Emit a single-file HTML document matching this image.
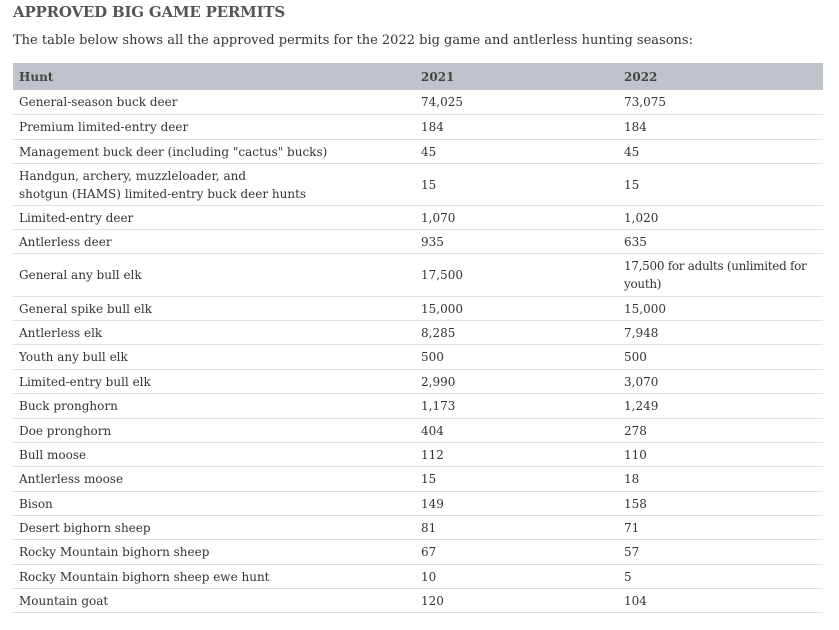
<!DOCTYPE html>
<html><head><style>
body{margin:0;width:839px;height:630px;background:#fff;font-family:"DejaVu Serif","Liberation Serif",serif;color:#444;position:relative;overflow:hidden}
.t{position:absolute;left:13px;top:3px;font-size:15px;letter-spacing:-0.2px;font-weight:bold;color:#555;white-space:nowrap}
.s{position:absolute;left:13px;top:33px;font-size:13px;color:#333;white-space:nowrap}
.r{position:absolute;left:13px;width:810px;border-bottom:1px solid #dde1e6;font-size:12px;color:#333}
.r div{position:absolute;top:50%;transform:translateY(-50%);line-height:18px;white-space:nowrap}
.a{left:6px}.b{left:408px}.c{left:611px}
.h{background:#bfc4cb;font-weight:bold;color:#444;border-bottom:none}
</style></head><body>
<div class="t">APPROVED BIG GAME PERMITS</div>
<div class="s">The table below shows all the approved permits for the 2022 big game and antlerless hunting seasons:</div>
<div class="r h" style="top:63px;height:27px"><div class="a">Hunt</div><div class="b">2021</div><div class="c">2022</div></div>
<div class="r" style="top:90px;height:24px"><div class="a">General-season buck deer</div><div class="b">74,025</div><div class="c">73,075</div></div>
<div class="r" style="top:115px;height:24px"><div class="a">Premium limited-entry deer</div><div class="b">184</div><div class="c">184</div></div>
<div class="r" style="top:140px;height:23px"><div class="a">Management buck deer (including "cactus" bucks)</div><div class="b">45</div><div class="c">45</div></div>
<div class="r" style="top:164px;height:41px"><div class="a">Handgun, archery, muzzleloader, and<br>shotgun (HAMS) limited-entry buck deer hunts</div><div class="b">15</div><div class="c">15</div></div>
<div class="r" style="top:206px;height:23px"><div class="a">Limited-entry deer</div><div class="b">1,070</div><div class="c">1,020</div></div>
<div class="r" style="top:230px;height:23px"><div class="a">Antlerless deer</div><div class="b">935</div><div class="c">635</div></div>
<div class="r" style="top:254px;height:42px"><div class="a">General any bull elk</div><div class="b">17,500</div><div class="c" style="letter-spacing:-0.3px">17,500 for adults (unlimited for<br>youth)</div></div>
<div class="r" style="top:297px;height:23px"><div class="a">General spike bull elk</div><div class="b">15,000</div><div class="c">15,000</div></div>
<div class="r" style="top:321px;height:23px"><div class="a">Antlerless elk</div><div class="b">8,285</div><div class="c">7,948</div></div>
<div class="r" style="top:345px;height:24px"><div class="a">Youth any bull elk</div><div class="b">500</div><div class="c">500</div></div>
<div class="r" style="top:370px;height:23px"><div class="a">Limited-entry bull elk</div><div class="b">2,990</div><div class="c">3,070</div></div>
<div class="r" style="top:394px;height:24px"><div class="a">Buck pronghorn</div><div class="b">1,173</div><div class="c">1,249</div></div>
<div class="r" style="top:419px;height:23px"><div class="a">Doe pronghorn</div><div class="b">404</div><div class="c">278</div></div>
<div class="r" style="top:443px;height:23px"><div class="a">Bull moose</div><div class="b">112</div><div class="c">110</div></div>
<div class="r" style="top:467px;height:24px"><div class="a">Antlerless moose</div><div class="b">15</div><div class="c">18</div></div>
<div class="r" style="top:492px;height:23px"><div class="a">Bison</div><div class="b">149</div><div class="c">158</div></div>
<div class="r" style="top:516px;height:23px"><div class="a">Desert bighorn sheep</div><div class="b">81</div><div class="c">71</div></div>
<div class="r" style="top:540px;height:24px"><div class="a">Rocky Mountain bighorn sheep</div><div class="b">67</div><div class="c">57</div></div>
<div class="r" style="top:565px;height:23px"><div class="a">Rocky Mountain bighorn sheep ewe hunt</div><div class="b">10</div><div class="c">5</div></div>
<div class="r" style="top:589px;height:23px"><div class="a">Mountain goat</div><div class="b">120</div><div class="c">104</div></div>
</body></html>
